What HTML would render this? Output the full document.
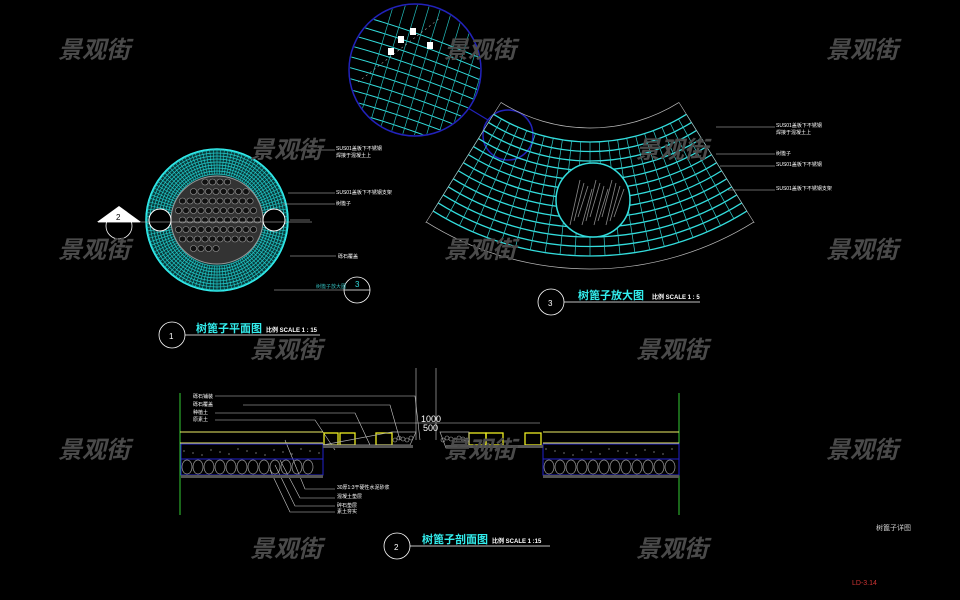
<!DOCTYPE html>
<html><head><meta charset="utf-8"><style>
html,body{margin:0;padding:0;background:#000;width:960px;height:600px;overflow:hidden}
svg{display:block}
text{font-family:"Liberation Sans","Noto Sans CJK SC",sans-serif}
.wm{font-family:"Noto Sans CJK SC","WenQuanYi Zen Hei",sans-serif;font-size:24px;font-style:italic;font-weight:bold;fill:#4a4a4a}
</style></head><body>
<svg id="s" width="960" height="600" viewBox="0 0 960 600" xmlns="http://www.w3.org/2000/svg">
<g id="g"></g>
<g id="plan"></g>
<g fill="#fff" font-size="5">
<text x="336" y="150">SUS01盖板下不锈钢</text><text x="336" y="157">焊接于混凝土上</text>
<text x="336" y="194">SUS01盖板下不锈钢支架</text><text x="336" y="205">树篦子</text>
<text x="338" y="258">砾石覆盖</text>
<text x="776" y="127">SUS01盖板下不锈钢</text><text x="776" y="134">焊接于混凝土上</text>
<text x="776" y="155">树篦子</text><text x="776" y="166">SUS01盖板下不锈钢</text><text x="776" y="190">SUS01盖板下不锈钢支架</text>
<text x="193" y="398">砾石铺装</text><text x="193" y="406">砾石覆盖</text><text x="193" y="414">种植土</text><text x="193" y="421">原素土</text>
<text x="337" y="489">30厚1:3干硬性水泥砂浆</text><text x="337" y="498">混凝土垫层</text><text x="337" y="507">碎石垫层</text><text x="337" y="513">素土夯实</text>
</g>
<g stroke="#ccc" stroke-width="0.6" fill="none">
<line x1="298" y1="150" x2="335" y2="150"/><line x1="288" y1="193" x2="335" y2="193"/><line x1="283" y1="204" x2="335" y2="204"/><line x1="290" y1="256" x2="336" y2="256"/>
<line x1="290" y1="220" x2="310" y2="220"/>
<line x1="716" y1="127" x2="775" y2="127"/><line x1="716" y1="154" x2="775" y2="154"/><line x1="720" y1="166" x2="775" y2="166"/><line x1="728" y1="190" x2="775" y2="190"/>
<polyline points="215,396 415,396 420,440"/><polyline points="243,405 390,405 400,440"/><polyline points="215,413 355,413 370,445"/><polyline points="215,420 315,420 335,450"/>
<polyline points="335,489 305,489 285,440"/><polyline points="335,498 300,498 280,460"/><polyline points="335,506 295,506 275,465"/><polyline points="335,512 290,512 270,470"/>
<line x1="416" y1="368" x2="416" y2="440"/><line x1="436" y1="368" x2="436" y2="440"/>
<line x1="320" y1="423" x2="540" y2="423"/>
</g>
<g fill="#fff" font-size="9"><text x="421" y="422">1000</text><text x="423" y="431">500</text></g>
<g fill="none" stroke-width="1">
<line x1="180" y1="393" x2="180" y2="515" stroke="#3c3"/><line x1="679" y1="393" x2="679" y2="515" stroke="#3c3"/>
<line x1="180" y1="432" x2="323" y2="432" stroke="#ee6"/><line x1="180" y1="443" x2="323" y2="443" stroke="#ee6"/>
<line x1="543" y1="432" x2="679" y2="432" stroke="#ee6"/><line x1="543" y1="443" x2="679" y2="443" stroke="#ee6"/>
<rect x="181" y="444" width="142" height="31" stroke="#22c"/><line x1="181" y1="459" x2="323" y2="459" stroke="#22c"/>
<rect x="543" y="444" width="136" height="31" stroke="#22c"/><line x1="543" y1="459" x2="679" y2="459" stroke="#22c"/>
<g stroke="#ee2" stroke-width="1.3"><rect x="324" y="433" width="14" height="12"/><rect x="340" y="433" width="15" height="12"/><rect x="376" y="433" width="16" height="12"/>
<rect x="469" y="433" width="17" height="12"/><rect x="486" y="433" width="17" height="12"/><rect x="525" y="433" width="16" height="12"/></g>
</g>
<g id="sec"></g>
<g fill="none" stroke="#fff" stroke-width="0.8">
<circle cx="172" cy="335" r="13"/><line x1="185" y1="335" x2="320" y2="335"/>
<circle cx="551" cy="302" r="13"/><line x1="564" y1="302" x2="700" y2="302"/>
<circle cx="397" cy="546" r="13"/><line x1="410" y1="546" x2="550" y2="546"/>
<circle cx="357" cy="290" r="13"/><line x1="344" y1="290" x2="370" y2="290"/>
<circle cx="119" cy="226" r="13"/><line x1="98" y1="222" x2="140" y2="222"/>
</g>
<polygon points="97,222 119,206 141,222" fill="#fff"/>
<g fill="#fff" font-size="8"><text x="169" y="339">1</text><text x="548" y="306">3</text><text x="394" y="550">2</text><text x="355" y="287" fill="#3dd">3</text><text x="116" y="220" fill="#000">2</text></g>
<line x1="274" y1="290" x2="344" y2="290" stroke="#ccc" stroke-width="0.6"/>
<text x="316" y="288" font-size="5" fill="#3bb">树篦子放大图</text>
<g font-weight="bold" fill="#3ee" font-size="11"><text x="196" y="332">树篦子平面图</text><text x="578" y="299">树篦子放大图</text><text x="422" y="543">树篦子剖面图</text></g>
<g fill="#fff" font-size="6" font-weight="bold"><text x="266" y="332">比例 SCALE 1 : 15</text><text x="652" y="299">比例 SCALE 1 : 5</text><text x="492" y="543">比例 SCALE 1 :15</text></g>
<text x="876" y="530" font-size="7" fill="#ccc">树篦子详图</text>
<text x="852" y="585" font-size="7" fill="#c33">LD-3.14</text>
<g class="wm">
<text x="58" y="58">景观街</text><text x="444" y="58">景观街</text><text x="826" y="58">景观街</text>
<text x="250" y="158">景观街</text><text x="636" y="158">景观街</text>
<text x="58" y="258">景观街</text><text x="444" y="258">景观街</text><text x="826" y="258">景观街</text>
<text x="250" y="358">景观街</text><text x="636" y="358">景观街</text>
<text x="58" y="458">景观街</text><text x="444" y="458">景观街</text><text x="826" y="458">景观街</text>
<text x="250" y="557">景观街</text><text x="636" y="557">景观街</text>
</g>
</svg>
<script>
var NS="http://www.w3.org/2000/svg";
function el(p,t,a){var e=document.createElementNS(NS,t);for(var k in a)e.setAttribute(k,a[k]);p.appendChild(e);return e}
var g=document.getElementById("g"),P=document.getElementById("plan"),S=document.getElementById("sec");
var cx=217,cy=220;
el(P,"circle",{cx:cx,cy:cy,r:71,fill:"#0a3a3a",stroke:"#3ee","stroke-width":1.5});
for(var r=46;r<=70;r+=3)el(P,"circle",{cx:cx,cy:cy,r:r,fill:"none",stroke:"#2cc","stroke-width":0.7});
for(var a=0;a<360;a+=3){var t=a*Math.PI/180;el(P,"line",{x1:cx+46*Math.cos(t),y1:cy+46*Math.sin(t),x2:cx+71*Math.cos(t),y2:cy+71*Math.sin(t),stroke:"#2cc","stroke-width":0.6});}
el(P,"ellipse",{cx:cx,cy:cy,rx:46,ry:44,fill:"#333",stroke:"#999","stroke-width":1});
for(var i=0;i<90;i++){var x=cx-42+(i%12)*7.5+(Math.floor(i/12)%2)*3.5,y=cy-38+Math.floor(i/12)*9.5;if((x-cx)*(x-cx)+(y-cy)*(y-cy)<41*41)el(P,"ellipse",{cx:x,cy:y,rx:3.2,ry:3,fill:"#111",stroke:"#999","stroke-width":0.6});}
[[cx-57,cy],[cx+57,cy]].forEach(function(p){el(P,"circle",{cx:p[0],cy:p[1],r:11,fill:"#000",stroke:"#fff","stroke-width":1});});
el(P,"line",{x1:98,y1:222,x2:312,y2:222,stroke:"#ccc","stroke-width":0.6});
// magnifier
el(g,"circle",{cx:415,cy:70,r:66,fill:"none",stroke:"#22b","stroke-width":1.5});
el(g,"circle",{cx:508,cy:135,r:25,fill:"none",stroke:"#22b","stroke-width":1.5});
el(g,"line",{x1:468,y1:108,x2:488,y2:120,stroke:"#22b","stroke-width":1.2});
var cl=document.createElementNS(NS,"clipPath");cl.id="mc";g.appendChild(cl);el(cl,"circle",{cx:415,cy:70,r:65});
var mg=el(g,"g",{"clip-path":"url(#mc)"});
for(var i=0;i<11;i++){var o=i*11;el(mg,"path",{d:"M"+340+","+(10+o)+" Q"+410+","+(28+o)+" "+490+","+(62+o),fill:"none",stroke:"#3dd","stroke-width":1});}
for(var i=0;i<12;i++){var o=i*12;el(mg,"line",{x1:350+o,y1:150,x2:395+o,y2:0,stroke:"#2bb","stroke-width":0.7});}
el(mg,"line",{x1:358,y1:82,x2:440,y2:18,stroke:"#aaa","stroke-width":0.6,"stroke-dasharray":"2,3"});
[[388,48],[398,36],[410,28],[427,42]].forEach(function(p){el(mg,"rect",{x:p[0],y:p[1],width:6,height:7,fill:"#fff"});});
// fan
var fx=590,fy=-40,A=32*Math.PI/180;
function pt(r,t){return [fx+r*Math.sin(t),fy+r*Math.cos(t)]}
function arc(r,col,w){var a=pt(r,-A),b=pt(r,A);el(g,"path",{d:"M"+a+" A"+r+","+r+" 0 0 0 "+b,fill:"none",stroke:col,"stroke-width":w});}
for(var r=182;r<=296;r+=9.5)arc(r,"#3dd",1.3);
for(var t=-A;t<=A+0.001;t+=A/11){var a=pt(182,t),b=pt(296,t);el(g,"line",{x1:a[0],y1:a[1],x2:b[0],y2:b[1],stroke:"#3cc","stroke-width":0.7});}
arc(168,"#bbb",0.7);arc(309,"#bbb",0.7);
[[-A,168,296],[A,168,296]].forEach(function(q){var a=pt(q[1],q[0]),b=pt(q[2]+14,q[0]);el(g,"line",{x1:a[0],y1:a[1],x2:b[0],y2:b[1],stroke:"#bbb","stroke-width":0.6});});
el(g,"circle",{cx:593,cy:200,r:37,fill:"#000",stroke:"#3dd","stroke-width":1.5});
for(var i=0;i<12;i++){el(g,"line",{x1:570+i*4,y1:225-i%3*4,x2:580+i*4,y2:180+i%4*3,stroke:"#888","stroke-width":0.8});}
function gravel(x0,x1,y,h){for(var x=x0+6;x<x1-4;x+=11){el(S,"ellipse",{cx:x,cy:y+h/2,rx:5,ry:h/2-1,fill:"none",stroke:"#999","stroke-width":0.7});}}
gravel(181,323,459,16);gravel(543,679,459,16);
[[181,323],[543,679]].forEach(function(s){el(S,"rect",{x:s[0],y:475,width:s[1]-s[0],height:3,fill:"#555"});for(var x=s[0]+3;x<s[1];x+=9)el(S,"circle",{cx:x,cy:449+(x%7),r:0.6,fill:"#bbb"});});
el(S,"path",{d:"M323,445 L410,445 L416,432 L392,432 Z",fill:"none",stroke:"#aaa","stroke-width":0.7});
el(S,"path",{d:"M440,432 L469,432 L469,446 L540,446 L446,448 Z",fill:"none",stroke:"#aaa","stroke-width":0.7});
for(var x=395;x<414;x+=4)el(S,"circle",{cx:x,cy:438+(x%3),r:2,fill:"none",stroke:"#aaa","stroke-width":0.6});
for(var x=443;x<468;x+=4)el(S,"circle",{cx:x,cy:438+(x%3),r:2,fill:"none",stroke:"#aaa","stroke-width":0.6});
el(S,"rect",{x:323,y:445,width:90,height:3,fill:"#555"});el(S,"rect",{x:446,y:445,width:97,height:3,fill:"#555"});
</script>
</body></html>
